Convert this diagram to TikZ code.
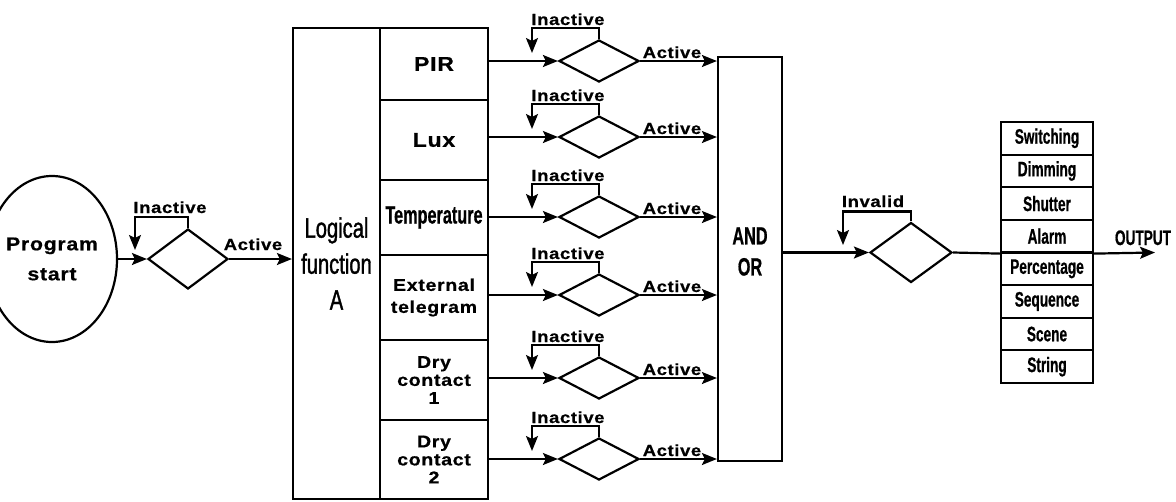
\documentclass[tikz,border=0pt]{standalone}
\usepackage{fontspec}
\setmainfont{Liberation Sans}
\newfontfamily\widefnt[FakeStretch=1.15,LetterSpace=4,BoldFeatures={FakeBold=0.7}]{Liberation Sans}
\newfontfamily\narrowfnt[FakeStretch=0.65,BoldFeatures={FakeBold=0.6}]{Liberation Sans}
\newfontfamily\narrowreg[FakeStretch=0.72,FakeBold=1.2]{Liberation Sans}
\usetikzlibrary{shapes.geometric,arrows.meta}
\tikzset{
  conn/.style={line width=2.2pt},
  arr/.style={line width=2.2pt,-{Stealth[length=15pt,width=12pt,inset=3pt]}},
  box/.style={draw,rectangle,line width=2.2pt,inner sep=0pt,align=center},
  dia/.style={draw,diamond,line width=2.2pt,inner sep=0pt,minimum width=80pt,minimum height=42pt},
  lab/.style={inner sep=0pt,anchor=base,font=\widefnt\bfseries\fontsize{16}{16}\selectfont},
  wtext/.style={font=\widefnt\bfseries\fontsize{17}{22}\selectfont},
  ntext/.style={font=\narrowfnt\bfseries\fontsize{21}{21}\selectfont},
}
\begin{document}
\begin{tikzpicture}[x=1pt,y=-1pt]
\useasboundingbox (0,0) rectangle (1176,501);
% start
\node[draw,ellipse,line width=2.2pt,minimum width=95pt,minimum height=166pt,inner sep=0pt,align=center,
  font=\widefnt\bfseries\fontsize{18.5}{30}\selectfont] (start) at (52,259) {Program\\start};
\node[dia,minimum width=80pt,minimum height=60pt] (d0) at (188,259) {};
\coordinate (t0) at (135,250);
% logic box and inputs
\node[box,minimum width=87pt,minimum height=471pt,font=\narrowreg\fontsize{28}{36}\selectfont] (logic) at (336.5,263.5) {Logical\\function\\A};
\node[box,minimum width=108pt,minimum height=72pt,font=\widefnt\bfseries\fontsize{20}{20}\selectfont] (in1) at (434,64) {PIR};
\node[box,minimum width=108pt,minimum height=80pt,font=\widefnt\bfseries\fontsize{20}{20}\selectfont] (in2) at (434,140) {Lux};
\node[box,minimum width=108pt,minimum height=75pt,font=\narrowfnt\bfseries\fontsize{25}{25}\selectfont] (in3) at (434,217.5) {Temperature};
\node[box,minimum width=108pt,minimum height=85pt,wtext] (in4) at (434,297.5) {External\\telegram};
\node[box,minimum width=108pt,minimum height=80pt,font=\widefnt\bfseries\fontsize{17}{18}\selectfont] (in5) at (434,380) {Dry\\contact\\1};
\node[box,minimum width=108pt,minimum height=79pt,font=\widefnt\bfseries\fontsize{17}{18}\selectfont] (in6) at (434,459.5) {Dry\\contact\\2};
% and/or
\node[box,minimum width=64pt,minimum height=404pt] (andor) at (750,259) {};
\node[inner sep=0pt,align=center,font=\narrowfnt\bfseries\fontsize{25}{31}\selectfont] (andortxt) at (750,251.5) {AND\\OR};
% invalid decision
\node[dia,minimum width=82pt,minimum height=60pt] (dv) at (911,252.5) {};
\coordinate (tv) at (843,245);
% outputs
\foreach \t [count=\i] in {Switching,Dimming,Shutter,Alarm,Percentage,Sequence,Scene,String}
  \node[box,minimum width=92pt,minimum height=32.625pt,ntext] (out\i) at (1047,{122+32.625*\i-16.3125}) {\t};
\coordinate (otip) at (1155,252.5);
% first stage connectors
\draw[arr] (start.east) -- (d0.west);
\draw[arr] (d0.north) -- ++(0,-11) -| (t0);
\draw[arr] (d0.east) -- (logic.west |- d0.east);
\node[lab] (lin0) at (170,213) {Inactive};
\node[lab] (lac0) at (253,250) {Active};
% sensor rows
\foreach \y/\i in {61/1,137/2,217/3,295/4,378/5,459/6}{
  \node[dia] (d\i) at (599,\y) {};
  \coordinate (t\i) at (532,\y-8);
  \draw[arr] (in\i.east |- d\i.west) -- (d\i.west);
  \draw[arr] (d\i.north) -- ++(0,-11) -| (t\i);
  \draw[arr] (d\i.east) -- (andor.west |- d\i.east);
  \node[lab] (lin\i) at (568,\y-36) {Inactive};
  \node[lab] (lac\i) at (672,\y-3) {Active};
}
% output stage
\draw[arr] (andor.east |- dv.west) -- (dv.west);
\draw[arr] (dv.north) -- ++(0,-10) -| (tv);
\node[lab] (linv) at (873,207) {Invalid};
\draw[conn] (dv.east) -- (out4.south west);
\draw[arr] (out4.south east) -- (otip);
\node[inner sep=0pt,anchor=base,font=\narrowfnt\bfseries\fontsize{21}{21}\selectfont] (outlab) at (1143,245) {OUTPUT};
\end{tikzpicture}
\end{document}
